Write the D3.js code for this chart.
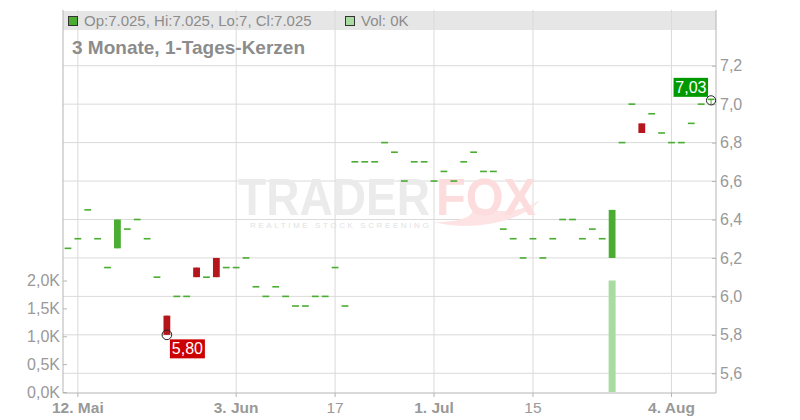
<!DOCTYPE html>
<html><head><meta charset="utf-8">
<script src="https://cdn.jsdelivr.net/npm/d3@7"></script>
<style>body{margin:0;background:#fff;} svg{display:block;font-family:"Liberation Sans",Arial,sans-serif;}</style>
</head><body><svg id="c" width="800" height="420"></svg>
<script>
const dates = ["2025-05-09","2025-05-12","2025-05-13","2025-05-14","2025-05-15","2025-05-16",
"2025-05-19","2025-05-20","2025-05-21","2025-05-22","2025-05-23",
"2025-05-26","2025-05-27","2025-05-28","2025-05-29","2025-05-30",
"2025-06-02","2025-06-03","2025-06-04","2025-06-05","2025-06-06",
"2025-06-09","2025-06-10","2025-06-11","2025-06-12","2025-06-13",
"2025-06-16","2025-06-17","2025-06-18","2025-06-19","2025-06-20",
"2025-06-23","2025-06-24","2025-06-25","2025-06-26","2025-06-27",
"2025-06-30","2025-07-01","2025-07-02","2025-07-03","2025-07-04",
"2025-07-07","2025-07-08","2025-07-09","2025-07-10","2025-07-11",
"2025-07-14","2025-07-15","2025-07-16","2025-07-17","2025-07-18",
"2025-07-21","2025-07-22","2025-07-23","2025-07-24","2025-07-25",
"2025-07-28","2025-07-29","2025-07-30","2025-07-31","2025-08-01",
"2025-08-04","2025-08-05","2025-08-06","2025-08-07","2025-08-08"];
const opens = [6.25,6.30,6.45,6.30,6.15,6.25, 6.35,6.40,6.30,6.10,5.90, 6.00,6.00,6.15,6.10,6.20,
 6.15,6.15,6.20,6.05,6.00, 6.05,6.00,5.95,5.95,6.00, 6.00,6.15,5.95,6.70,6.70, 6.70,6.80,6.75,6.60,6.70,
 6.70,6.60,6.65,6.60,6.70, 6.75,6.65,6.65,6.35,6.30, 6.20,6.30,6.20,6.30,6.40, 6.40,6.30,6.35,6.30,6.20,
 6.80,7.00,6.90,6.95,6.85, 6.80,6.80,6.90,7.00,7.025];
const closes = [6.25,6.30,6.45,6.30,6.15,6.40, 6.35,6.40,6.30,6.10,5.80, 6.00,6.00,6.10,6.10,6.10,
 6.15,6.15,6.20,6.05,6.00, 6.05,6.00,5.95,5.95,6.00, 6.00,6.15,5.95,6.70,6.70, 6.70,6.80,6.75,6.60,6.70,
 6.70,6.60,6.65,6.60,6.70, 6.75,6.65,6.65,6.35,6.30, 6.20,6.30,6.20,6.30,6.40, 6.40,6.30,6.35,6.30,6.45,
 6.80,7.00,6.85,6.95,6.85, 6.80,6.80,6.90,7.00,7.025];
const highs = [6.25,6.30,6.45,6.30,6.15,6.40, 6.35,6.40,6.30,6.10,5.90, 6.00,6.00,6.15,6.10,6.20,
 6.15,6.15,6.20,6.05,6.00, 6.05,6.00,5.95,5.95,6.00, 6.00,6.15,5.95,6.70,6.70, 6.70,6.80,6.75,6.60,6.70,
 6.70,6.60,6.65,6.60,6.70, 6.75,6.65,6.65,6.35,6.30, 6.20,6.30,6.20,6.30,6.40, 6.40,6.30,6.35,6.30,6.45,
 6.80,7.00,6.90,6.95,6.85, 6.80,6.80,6.90,7.00,7.025];
const lows = [6.25,6.30,6.45,6.30,6.15,6.25, 6.35,6.40,6.30,6.10,5.80, 6.00,6.00,6.10,6.10,6.10,
 6.15,6.15,6.20,6.05,6.00, 6.05,6.00,5.95,5.95,6.00, 6.00,6.15,5.95,6.70,6.70, 6.70,6.80,6.75,6.60,6.70,
 6.70,6.60,6.65,6.60,6.70, 6.75,6.65,6.65,6.35,6.30, 6.20,6.30,6.20,6.30,6.40, 6.40,6.30,6.35,6.30,6.20,
 6.80,7.00,6.85,6.95,6.85, 6.80,6.80,6.90,7.00,7.00];
const volumes = [0,0,0,0,0,0, 0,0,0,0,0, 0,0,0,0,0, 0,0,0,0,0, 0,0,0,0,0, 0,0,0,0,0, 0,0,0,0,0,
 0,0,0,0,0, 0,0,0,0,0, 0,0,0,0,0, 0,0,0,0,2000, 0,0,0,0,0, 0,0,0,0,0];
const priceTicks = [5.6,5.8,6.0,6.2,6.4,6.6,6.8,7.0,7.2];
const volumeTicks = [0,500,1000,1500,2000];
const dateTicks = ["2025-05-12","2025-06-03","2025-06-17","2025-07-01","2025-07-15","2025-08-04"];
const dateTickLabels = ["12. Mai","3. Jun","17","1. Jul","15","4. Aug"];
const dateTickBold = [true,true,false,true,false,true];
const headerText = "Op:7.025, Hi:7.025, Lo:7, Cl:7.025";
const volText = "Vol: 0K";
const titleText = "3 Monate, 1-Tages-Kerzen";
const lowLabel = "5,80";
const lastLabel = "7,03";

const L = 63, R = 716, T = 10, B = 393;
const svg = d3.select("#c");
const x = d3.scaleBand().domain(dates).range([L, R]).padding(0);
const cx = d => x(d) + x.bandwidth() / 2;
const y = d3.scaleLinear().domain([5.6, 7.2]).range([373.3, 65.7]);
const yv = d3.scaleLinear().domain([0, 2000]).range([392, 280.5]);
const GRID = "#dadada", AX = "#b4b4b4", TXT = "#999", GREEN = "#4aad32", RED = "#b5161b";

// header band
svg.append("rect").attr("x", L).attr("y", 11).attr("width", R - L).attr("height", 19).attr("fill", "#e6e6e6");

// grid
svg.append("g").selectAll("line").data(priceTicks).join("line")
  .attr("x1", L).attr("x2", R).attr("y1", d => y(d)).attr("y2", d => y(d))
  .attr("stroke", GRID).attr("stroke-width", 1);
svg.append("g").selectAll("line").data(dateTicks).join("line")
  .attr("x1", d => cx(d)).attr("x2", d => cx(d)).attr("y1", T).attr("y2", B)
  .attr("stroke", GRID).attr("stroke-width", 1);

// watermark (one text element with tspans)
svg.append("path").attr("d", "M434,222 C472,232 522,222 540,200 C520,214 490,214 470,204 C480,216 460,222 434,222 Z")
  .attr("fill", "#fde3e3");
const wm = svg.append("text").attr("font-weight", "bold");
wm.append("tspan").attr("x", 238).attr("y", 215).attr("font-size", 52)
  .attr("textLength", 192).attr("lengthAdjust", "spacingAndGlyphs").attr("fill", "#ebebeb").text("TRADER");
wm.append("tspan").attr("x", 436).attr("y", 215).attr("font-size", 52)
  .attr("textLength", 100).attr("lengthAdjust", "spacingAndGlyphs").attr("fill", "#fcdcdc").text("FOX");
wm.append("tspan").attr("x", 250).attr("y", 228).attr("font-size", 8).attr("font-weight", "normal")
  .attr("letter-spacing", 2.6).attr("fill", "#e2e2e2").text("REALTIME STOCK SCREENING");

// volume bars
svg.append("g").selectAll("rect").data(dates.map((d, i) => ({d, v: volumes[i]})).filter(o => o.v > 0)).join("rect")
  .attr("x", o => cx(o.d) - 3.5).attr("width", 7)
  .attr("y", o => yv(o.v)).attr("height", o => yv(0) - yv(o.v))
  .attr("fill", "#a9dca0");

// axes lines
svg.append("line").attr("x1", L).attr("x2", L).attr("y1", T).attr("y2", B).attr("stroke", AX);
svg.append("line").attr("x1", R).attr("x2", R).attr("y1", T).attr("y2", B).attr("stroke", AX);
svg.append("line").attr("x1", L).attr("x2", R).attr("y1", B).attr("y2", B).attr("stroke", AX);

// right price axis
const ra = svg.append("g").attr("transform", `translate(${R},0)`)
  .call(d3.axisRight(y).tickValues(priceTicks).tickSizeInner(-4).tickSizeOuter(0).tickPadding(4)
    .tickFormat(d => d.toFixed(1).replace(".", ",")));
ra.select(".domain").remove();
ra.selectAll("line").attr("stroke", AX);
ra.selectAll("text").attr("fill", TXT).attr("font-size", 16).attr("font-family", "Liberation Sans, Arial, sans-serif");

// left volume axis
const la = svg.append("g").attr("transform", `translate(${L},0)`)
  .call(d3.axisLeft(yv).tickValues(volumeTicks).tickSizeInner(-4).tickSizeOuter(0).tickPadding(3)
    .tickFormat(d => (d / 1000).toFixed(1).replace(".", ",") + "K"));
la.select(".domain").remove();
la.selectAll("line").attr("stroke", AX);
la.selectAll("text").attr("fill", TXT).attr("font-size", 16).attr("font-family", "Liberation Sans, Arial, sans-serif");

// bottom date axis
const ba = svg.append("g").attr("transform", `translate(0,${B})`)
  .call(d3.axisBottom(x).tickValues(dateTicks).tickSizeInner(4).tickSizeOuter(0).tickPadding(5)
    .tickFormat((d, i) => dateTickLabels[i]));
ba.select(".domain").remove();
ba.selectAll("line").attr("stroke", AX);
ba.selectAll("text").attr("fill", TXT).attr("font-size", 15.5)
  .attr("font-family", "Liberation Sans, Arial, sans-serif")
  .attr("font-weight", (d, i) => dateTickBold[i] ? "bold" : "normal");

// candles
const cw = 6.8;
const cg = svg.append("g");
dates.forEach((d, i) => {
  const o = opens[i], c = closes[i], h = highs[i], l = lows[i];
  const col = c > o ? GREEN : (c < o ? RED : GREEN);
  if (h !== l) {
    cg.append("line").attr("x1", cx(d)).attr("x2", cx(d)).attr("y1", y(h)).attr("y2", y(l))
      .attr("stroke", col).attr("stroke-width", 1);
  }
  const top = y(Math.max(o, c)), bot = y(Math.min(o, c));
  const hgt = Math.max(bot - top, 1.6);
  cg.append("rect").attr("x", cx(d) - cw / 2).attr("width", cw)
    .attr("y", hgt === 1.6 ? top - 0.8 : top).attr("height", hgt).attr("fill", col);
});

// low marker
const minI = lows.indexOf(d3.min(lows));
const mx = cx(dates[minI]), my = y(lows[minI]);
svg.append("circle").attr("cx", mx).attr("cy", my).attr("r", 4.8).attr("fill", "none").attr("stroke", "#222").attr("stroke-width", 1);
svg.append("rect").attr("x", mx + 3).attr("y", my + 4.5).attr("width", 35).attr("height", 19).attr("fill", "#cc0000");
svg.append("text").attr("x", mx + 20.5).attr("y", my + 19.5).attr("text-anchor", "middle").attr("fill", "#fff")
  .attr("font-size", 16).text(lowLabel);

// last marker
const li = dates.length - 1;
const lx = cx(dates[li]), ly = y(closes[li]);
svg.append("circle").attr("cx", lx).attr("cy", ly + 1).attr("r", 4.6).attr("fill", "none").attr("stroke", "#222").attr("stroke-width", 1);
svg.append("rect").attr("x", lx - 37.5).attr("y", ly - 21.5).attr("width", 34.5).attr("height", 19).attr("fill", "#009a00");
svg.append("text").attr("x", lx - 20.2).attr("y", ly - 6.5).attr("text-anchor", "middle").attr("fill", "#fff")
  .attr("font-size", 16).text(lastLabel);

// header legend
svg.append("rect").attr("x", 68.5).attr("y", 16.5).attr("width", 9).attr("height", 9).attr("fill", GREEN).attr("stroke", "#333");
svg.append("text").attr("x", 84).attr("y", 26).attr("font-size", 15).attr("fill", "#8c8c8c").text(headerText);
svg.append("rect").attr("x", 345.5).attr("y", 16.5).attr("width", 9).attr("height", 9).attr("fill", "#a9dca0").attr("stroke", "#333");
svg.append("text").attr("x", 361).attr("y", 26).attr("font-size", 15).attr("fill", "#8c8c8c").text(volText);

// title
svg.append("text").attr("x", 72).attr("y", 54).attr("font-size", 19).attr("font-weight", "bold").attr("fill", "#8c8c8c").text(titleText);
</script></body></html>
